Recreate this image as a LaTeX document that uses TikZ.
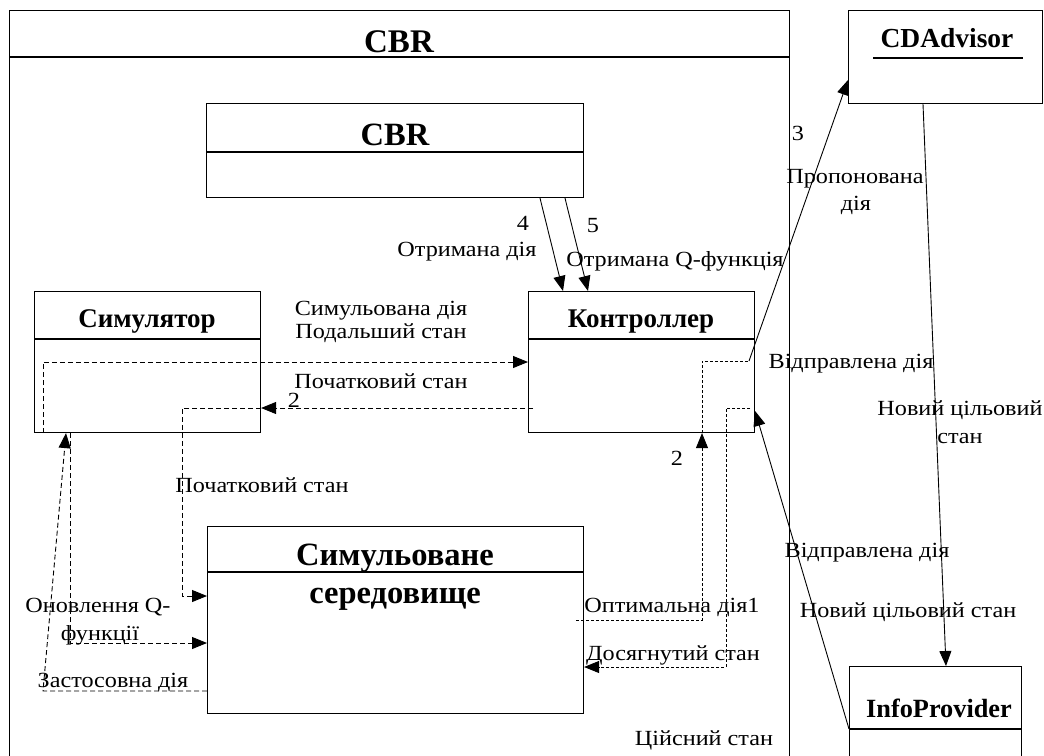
\documentclass[tikz,border=0pt]{standalone}
\usepackage{fontspec}
\setmainfont{Liberation Serif}[FakeStretch=1.12]
\newfontfamily\titlefont{Liberation Serif}
\usetikzlibrary{arrows.meta}
\begin{document}
\begin{tikzpicture}[x=1pt,y=-1pt,
  box/.style={draw, line width=1.1pt, inner sep=0pt, anchor=north west},
  lbl/.style={inner sep=0pt, anchor=base, font=\fontsize{21.6}{23}\selectfont},
  ttl/.style={inner sep=0pt, anchor=base, font=\titlefont\fontsize{27}{29}\selectfont\bfseries},
  tip/.style={-{Triangle[length=15pt,width=12pt]}},
  conn/.style={line width=0.9pt, tip},
  dline/.style={line width=0.9pt, dash pattern=on 5pt off 3pt},
  dconn/.style={dline, tip},
  fline/.style={line width=0.9pt, dash pattern=on 3pt off 2pt},
  fconn/.style={fline, tip},
]
\useasboundingbox (0,0) rectangle (1044,755);
\clip (0,0) rectangle (1044,755);
\fill[white] (0,0) rectangle (1044,755);

% boxes
\node[box, minimum width=780pt, minimum height=770pt] (outer) at (9,10) {};
\draw[line width=1.1pt] (9,57) -- (789,57);
\node[ttl, font=\titlefont\fontsize{33}{35}\selectfont\bfseries] (outerT) at (399,52) {CBR};

\node[box, minimum width=377pt, minimum height=94pt] (cbr) at (206,103) {};
\draw[line width=1.1pt] (206,152) -- (583,152);
\node[ttl, font=\titlefont\fontsize{32.5}{35}\selectfont\bfseries] (cbrT) at (395,145) {CBR};

\node[box, minimum width=226pt, minimum height=141pt] (sim) at (34,291) {};
\draw[line width=1.1pt] (34,339) -- (260,339);
\node[ttl] (simT) at (147,327) {Симулятор};

\node[box, minimum width=226pt, minimum height=141pt] (ctrl) at (528,291) {};
\draw[line width=1.1pt] (528,339) -- (754,339);
\node[ttl] (ctrlT) at (641,327) {Контроллер};

\node[box, minimum width=376pt, minimum height=187pt] (env) at (207,526) {};
\draw[line width=1.1pt] (207,572) -- (583,572);
\node[ttl, font=\titlefont\fontsize{32.5}{35}\selectfont\bfseries] (envT1) at (395,565) {Симульоване};
\node[ttl, font=\titlefont\fontsize{32.5}{35}\selectfont\bfseries] (envT2) at (395,603) {середовище};

\node[box, minimum width=194pt, minimum height=93pt] (cda) at (848,10) {};
\draw[line width=1.1pt] (873,58) -- (1023,58);
\node[ttl, font=\titlefont\fontsize{27.5}{29}\selectfont\bfseries] (cdaT) at (947,47) {CDAdvisor};

\node[box, minimum width=172pt, minimum height=110pt] (ip) at (849,666) {};
\draw[line width=1.1pt] (849,729) -- (1021,729);
\node[ttl, font=\titlefont\fontsize{26.3}{28}\selectfont\bfseries] (ipT) at (939,717) {InfoProvider};

% connectors
\draw[conn] (540,0 |- cbr.south) -- (563,0 |- ctrl.north);
\draw[conn] (565,0 |- cbr.south) -- (588,0 |- ctrl.north);

\draw[dconn] (43,0 |- sim.south) -- (43,362) -- (ctrl.west |- 0,362);
\draw[dconn] (533,408) -- (sim.east |- 0,408);
\draw[dconn] (sim.east |- 0,408) -- (182,408) -- (182,596) -- (env.west |- 0,596);
\draw[dconn] (70,0 |- sim.south) -- (70,643) -- (env.west |- 0,643);
\draw[dconn] (env.west |- 0,691) -- (43,691) -- (66,0 |- sim.south);

\draw[fconn] (576,620) -- (702,620) -- (702,0 |- ctrl.south);
\draw[fline] (702,0 |- ctrl.south) -- (702,361) -- (749,361);
\draw[conn] (749,361) -- (cda.west |- 0,80);

\draw[conn] (ip.west |- 0,729) -- (ctrl.east |- 0,411);
\draw[fconn] (750,408) -- (726,408) -- (726,667) -- (env.east |- 0,667);

\draw[conn] (923,0 |- cda.south) -- (946,0 |- ip.north);

% labels
\node[lbl] (l4) at (523,230) {4};
\node[lbl] (l5) at (593,232) {5};
\node[lbl] (lOd) at (467,256) {Отримана дія};
\node[lbl] (lOq) at (675,266) {Отримана Q-функція};
\node[lbl] (lSd) at (381,315) {Симульована дія};
\node[lbl] (lPs) at (381,338) {Подальший стан};
\node[lbl] (lPc) at (381,388) {Початковий стан};
\node[lbl] (l2a) at (294,407) {2};
\node[lbl] (lPc2) at (262,492) {Початковий стан};
\node[lbl] (lOn1) at (98,612) {Оновлення Q-};
\node[lbl] (lOn2) at (100,640) {функції};
\node[lbl] (lZd) at (113,687) {Застосовна дія};
\node[lbl] (lOpt) at (672,612) {Оптимальна дія1};
\node[lbl] (lDs) at (673,660) {Досягнутий стан};
\node[lbl] (lDi) at (704,745) {Ційсний стан};
\node[lbl] (l2b) at (677,465) {2};
\node[lbl] (l3) at (798,140) {3};
\node[lbl] (lPr1) at (855,183) {Пропонована};
\node[lbl] (lPr2) at (856,210) {дія};
\node[lbl] (lVd1) at (851,368) {Відправлена дія};
\node[lbl] (lNc1) at (960,415) {Новий цільовий};
\node[lbl] (lNc2) at (960,443) {стан};
\node[lbl] (lVd2) at (867,557) {Відправлена дія};
\node[lbl] (lNc3) at (908,617) {Новий цільовий стан};
\end{tikzpicture}
\end{document}
